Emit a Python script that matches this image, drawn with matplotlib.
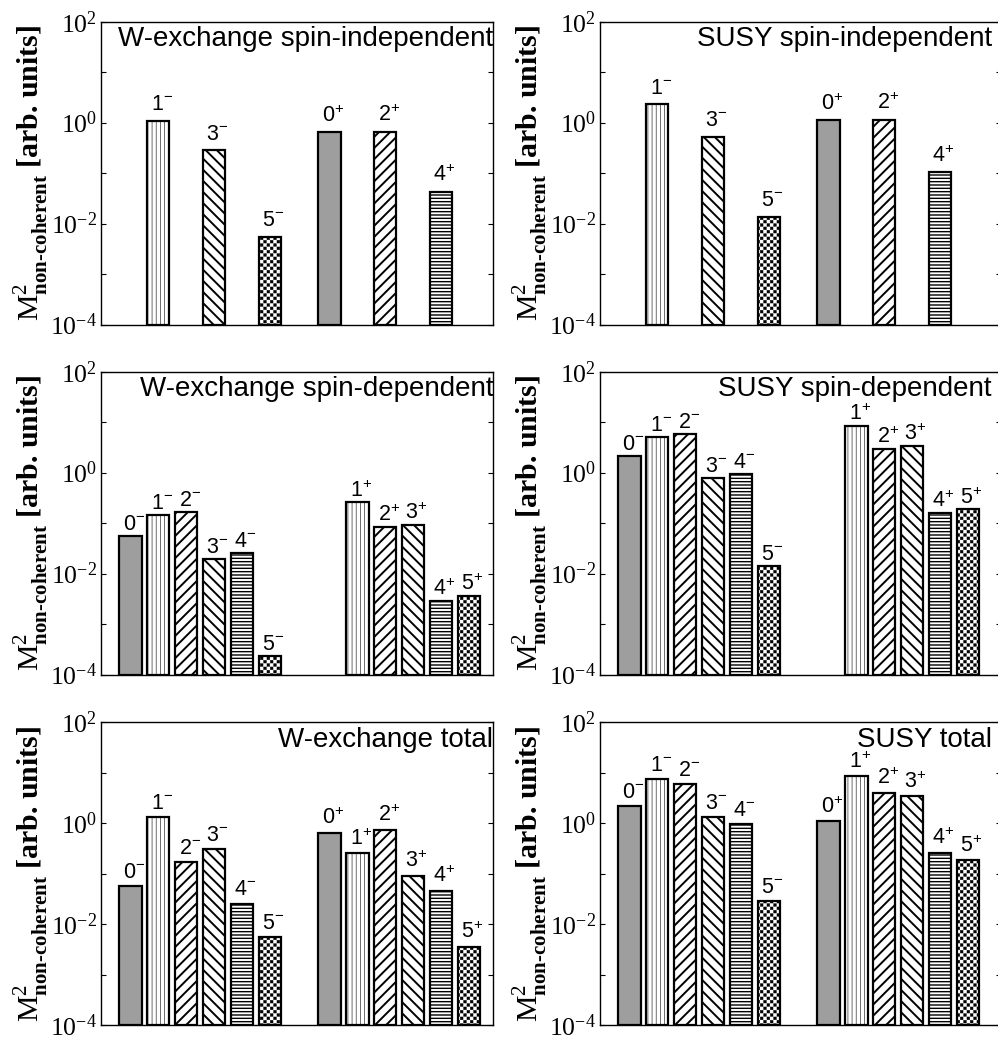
import matplotlib
matplotlib.use("Agg")
import matplotlib.pyplot as plt
import matplotlib.hatch as mhatch
from matplotlib.path import Path

# values (arb. units, log axis)
titles = ["W-exchange spin-independent", "SUSY spin-independent",
          "W-exchange spin-dependent", "SUSY spin-dependent",
          "W-exchange total", "SUSY total"]

si_states = ["1-", "3-", "5-", "0+", "2+", "4+"]
sd_states = ["0-", "1-", "2-", "3-", "4-", "5-", "1+", "2+", "3+", "4+", "5+"]
tot_states = ["0-", "1-", "2-", "3-", "4-", "5-", "0+", "1+", "2+", "3+", "4+", "5+"]

w_si = [1.09, 0.286, 0.0055, 0.65, 0.66, 0.043]
susy_si = [2.30, 0.526, 0.0136, 1.11, 1.14, 0.105]
w_sd = [0.056, 0.146, 0.168, 0.0191, 0.0255, 0.000228, 0.256, 0.0834, 0.0913, 0.00283, 0.0036]
susy_sd = [2.15, 5.02, 5.93, 0.79, 0.93, 0.0143, 8.42, 2.95, 3.44, 0.16, 0.186]
w_tot = [0.0561, 1.33, 0.170, 0.304, 0.0254, 0.0056, 0.65, 0.257, 0.745, 0.0912, 0.046, 0.00356]
susy_tot = [2.16, 7.53, 6.0, 1.31, 0.95, 0.0283, 1.11, 8.5, 4.04, 3.47, 0.261, 0.187]

panels = [(si_states, w_si), (si_states, susy_si),
          (sd_states, w_sd), (sd_states, susy_sd),
          (tot_states, w_tot), (tot_states, susy_tot)]

y_lo, y_hi = 1e-4, 1e2


# checkerboard fill, hooked onto the '*' hatch character
class CheckerHatch(mhatch.HatchPatternBase):
    filled = True

    def __init__(self, hatch, density):
        self.n = hatch.count("*") * density
        self.num_vertices = 5 * ((self.n * self.n + 1) // 2) if self.n else 0

    def set_vertices_and_codes(self, vertices, codes):
        n = self.n
        step = 1.0 / n
        pad = 0.003
        k = 0
        for i in range(n):
            for j in range(n):
                if (i + j) % 2:
                    continue
                x0, y0 = i * step + pad, j * step + pad
                x1, y1 = x0 + step - 2 * pad, y0 + step - 2 * pad
                vertices[k:k + 5] = [(x0, y0), (x1, y0), (x1, y1), (x0, y1), (x0, y0)]
                codes[k:k + 5] = [Path.MOVETO, Path.LINETO, Path.LINETO, Path.LINETO, Path.CLOSEPOLY]
                k += 5


mhatch._hatch_types = [t for t in mhatch._hatch_types if t is not mhatch.Stars] + [CheckerHatch]

# one fill style per J
styles = {
    0: dict(face="#9e9e9e", hatch=None, hcolor="#9e9e9e", hlw=1.0),
    1: dict(face="white", hatch="||||", hcolor="#555555", hlw=0.6),
    2: dict(face="white", hatch="///", hcolor="black", hlw=1.4),
    3: dict(face="white", hatch="\\\\\\", hcolor="black", hlw=1.4),
    4: dict(face="white", hatch="-----", hcolor="black", hlw=1.0),
    5: dict(face="white", hatch="*****", hcolor="black", hlw=0.3),
}

plt.rcParams["font.family"] = "Liberation Serif"
plt.rcParams["mathtext.fontset"] = "custom"
plt.rcParams["mathtext.rm"] = "Liberation Serif"
plt.rcParams["mathtext.bf"] = "Liberation Serif:bold"
plt.rcParams["hatch.linewidth"] = 1.0

W, H = 998, 1043
fig = plt.figure(figsize=(W / 100, H / 100), dpi=100)

unit_px = 27.84
col_x = [101, 600]
col_w = [392, 401]
row_top = [21.7, 371.7, 722.3]
row_h = 302.8
label_lift = [7.5, 4.3, 6.0]   # gap bar top -> label baseline, points


def bar_x(state):
    j = int(state[0])
    return j + 1 if state[1] == "-" else j + 8.15


ylabel = r"$\mathrm{M}^{2}_{\mathbf{non}\text{-}\mathbf{coherent}}$ [arb. units]"

for idx, ((states, vals), title) in enumerate(zip(panels, titles)):
    r, c = divmod(idx, 2)
    ax = fig.add_axes([col_x[c] / W, 1 - (row_top[r] + row_h) / H, col_w[c] / W, row_h / H])
    ax.set_yscale("log")
    x_lo = 1 - (130.5 - 101) / unit_px
    ax.set_xlim(x_lo, x_lo + col_w[c] / unit_px)
    ax.set_ylim(y_lo, y_hi)

    for s, v in zip(states, vals):
        st = styles[int(s[0])]
        x = bar_x(s)
        with plt.rc_context({"hatch.linewidth": st["hlw"]}):
            bars = ax.bar(x, v - y_lo, bottom=y_lo, width=0.8, color=st["face"],
                          edgecolor=st["hcolor"], linewidth=0, hatch=st["hatch"], zorder=2)
        for p in bars:
            if hasattr(p, "set_hatch_linewidth"):
                p.set_hatch_linewidth(st["hlw"])
        ax.bar(x, v - y_lo, bottom=y_lo, width=0.8, fill=False,
               edgecolor="black", linewidth=1.6, zorder=3)
        ax.annotate(r"$\mathregular{%s^{%s}}$" % (s[0], s[1]), (x, v),
                    xytext=(2.5, label_lift[r]), textcoords="offset points",
                    ha="center", va="baseline", fontsize=15.5,
                    fontfamily="Liberation Sans")

    ax.text(392 / col_w[c], 1 - (26.0 - 21.7) / row_h, title, transform=ax.transAxes,
            ha="right", va="top", fontsize=20, fontfamily="Liberation Sans")

    decades = list(range(-4, 3))
    ax.set_yticks([10.0 ** k for k in decades],
                  [r"$\mathregular{10^{%d}}$" % k if k % 2 == 0 else "" for k in decades])
    ax.minorticks_off()
    ax.set_xticks([])
    ax.tick_params(axis="y", which="both", direction="in", left=True, right=True,
                   length=3.6, width=0.8, labelsize=18.5, pad=3)
    for sp in ax.spines.values():
        sp.set_linewidth(1.0)

    ax.set_ylabel(ylabel, fontsize=21.5, fontweight="bold")
    ax.yaxis.set_label_coords(-50 / col_w[c], 0.5)

fig.savefig("out.png", dpi=100)
